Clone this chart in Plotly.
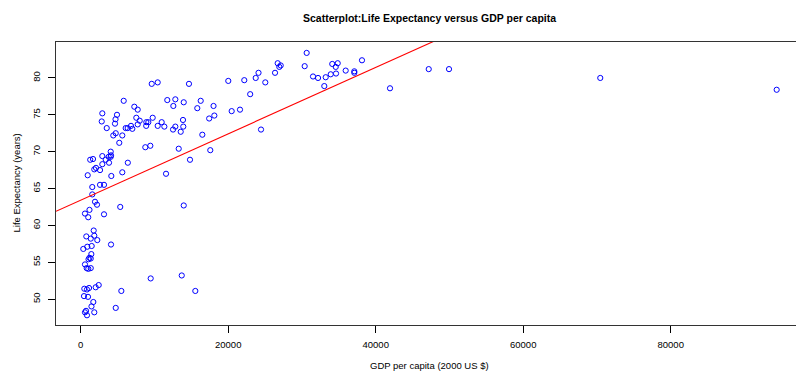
import numpy as np
import plotly.graph_objects as go

gdp = [9630, 10440, 14680, 20010, 22180, 23730, 24110, 5830, 11740, 12830,
       13970, 12560, 16270, 15810, 18010, 20470, 21600, 22980, 18120, 17420,
       2930, 2850, 4920, 4720, 4650, 7270, 7730, 3530, 7540, 8000,
       6100, 6370, 6820, 7000, 7730, 8900, 9170, 8880, 9760, 10980,
       10440, 11340, 13870, 12830, 13910, 12520, 13560, 4750, 4420, 5640,
       16490, 5230, 8760, 9440, 13290, 17570, 4070, 4110, 2930, 1290,
       1670, 3800, 4070, 3390, 3840, 2930, 6390, 14820, 1840, 2070,
       2620, 950, 4150, 5640, 11570, 1570, 2620, 3160, 1570, 1940,
       2210, 1190, 580, 1020, 3160, 5360, 13970, 1760, 760, 1360,
       1840, 2250, 4110, 350, 890, 1490, 1440, 1060, 1360, 1190,
       580, 810, 1030, 1360, 9490, 13700, 490, 850, 1130, 2030,
       2440, 5510, 15540, 450, 990, 1710, 1460, 4750, 720, 580,
       850, 1840,
       30640, 30370, 26710, 27120, 26930, 26350, 25030, 24450, 31500, 32180,
       33220, 33030, 33900, 34110, 34580, 34850, 34620, 35930, 37100, 37100,
       38140, 41940, 47190, 49940, 70450, 94370]

life = [79.2, 79.4, 79.2, 79.6, 79.7, 80.0, 80.7, 76.9, 77.0, 77.1,
        76.7, 76.2, 76.9, 75.9, 76.2, 75.5, 75.7, 77.8, 74.9, 74.5,
        75.2, 74.1, 75.0, 74.4, 73.8, 76.1, 75.7, 73.2, 74.6, 74.2,
        73.2, 73.2, 73.5, 73.1, 73.7, 74.0, 74.0, 73.5, 74.6, 74.0,
        73.5, 73.4, 74.3, 73.4, 73.4, 73.0, 72.7, 72.5, 72.2, 72.2,
        72.3, 71.2, 70.6, 70.8, 70.4, 70.2, 70.0, 69.5, 69.4, 68.9,
        69.0, 69.3, 69.3, 68.9, 68.5, 68.3, 68.5, 68.9, 67.6, 67.8,
        67.5, 66.8, 66.7, 67.2, 67.0, 65.2, 65.5, 65.5, 64.2, 63.2,
        62.8, 62.1, 61.6, 61.1, 61.5, 62.5, 62.7, 59.3, 58.5, 58.2,
        58.6, 58.0, 57.4, 56.8, 57.1, 57.2, 56.1, 55.4, 55.5, 55.6,
        54.7, 54.2, 54.1, 54.2, 52.8, 53.2, 51.4, 51.3, 51.5, 51.6,
        51.9, 51.1, 51.1, 50.4, 50.3, 49.6, 49.0, 48.8, 48.4, 48.2,
        47.8, 48.2,
        83.4, 81.6, 82.0, 81.7, 81.5, 80.7, 79.4, 73.0, 80.2, 80.0,
        80.1, 78.9, 80.5, 81.9, 81.5, 82.0, 80.6, 81.0, 80.9, 80.7,
        82.4, 78.6, 81.2, 81.2, 80.0, 78.4]

x_ticks = [0, 20000, 40000, 60000, 80000]
y_ticks = [50, 55, 60, 65, 70, 75, 80]

title_text = "Scatterplot:Life Expectancy versus GDP per capita"
x_title = "GDP per capita (2000 US $)"
y_title = "Life Expectancy (years)"

slope, intercept = np.polyfit(np.array(gdp, float), np.array(life, float), 1)

x_range = [-3350, 96990]
y_range = [46.48, 84.88]
line_x = np.array(x_range, float)
line_y = intercept + slope * line_x

FONT = "Liberation Sans, Arial, sans-serif"

fig = go.Figure()
fig.add_trace(go.Scatter(
    x=gdp, y=life, mode="markers",
    marker=dict(symbol="circle-open", size=5.2, color="#0000ff",
                line=dict(width=1.0, color="#0000ff")),
    showlegend=False, hoverinfo="skip"))
fig.add_trace(go.Scatter(
    x=line_x, y=line_y, mode="lines",
    line=dict(color="#ff0000", width=1.1),
    showlegend=False, hoverinfo="skip"))

fig.update_layout(
    width=796, height=374,
    margin=dict(l=56, r=0, t=42, b=49),
    paper_bgcolor="white", plot_bgcolor="white",
    font=dict(family=FONT, size=9.5, color="black"),
    xaxis=dict(range=x_range, tickvals=x_ticks, ticktext=[str(v) for v in x_ticks],
               showgrid=False, zeroline=False, showline=True, mirror=True,
               linecolor="#333333", linewidth=1, ticks="outside", ticklen=7,
               tickcolor="#000000", ticklabelstandoff=4,
               tickfont=dict(size=9.5)),
    yaxis=dict(range=y_range, tickvals=y_ticks, ticktext=[str(v) for v in y_ticks],
               showgrid=False, zeroline=False, showline=True, mirror=False,
               linecolor="#333333", linewidth=1, ticks="outside", ticklen=7,
               tickcolor="#000000", tickangle=-90, ticklabelstandoff=4,
               tickfont=dict(size=9.5)),
    annotations=[
        dict(text="<b>" + title_text + "</b>", xref="paper", yref="paper",
             x=0.5054, y=1, yshift=24, showarrow=False,
             font=dict(size=10.5, family=FONT), xanchor="center", yanchor="middle"),
        dict(text=x_title, xref="paper", yref="paper", x=0.5054, y=0,
             yshift=-40, showarrow=False, font=dict(size=9.5, family=FONT),
             xanchor="center", yanchor="middle"),
        dict(text=y_title, xref="paper", yref="paper", x=0, y=0.5,
             xshift=-40, showarrow=False, textangle=-90,
             font=dict(size=9.5, family=FONT), xanchor="center", yanchor="middle"),
    ],
)

fig.write_html("out.html")
